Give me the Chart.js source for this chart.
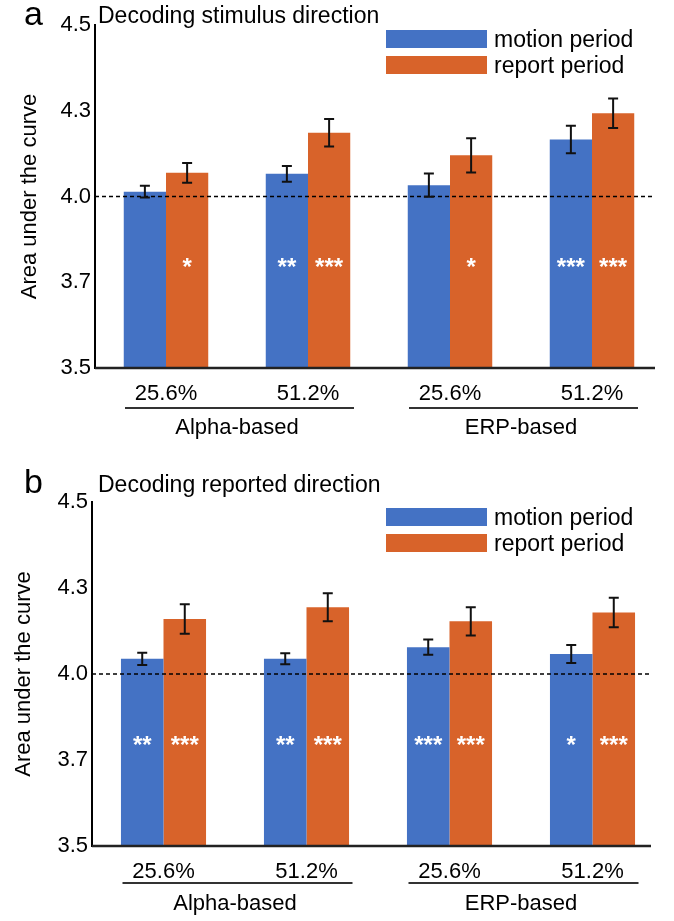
<!DOCTYPE html>
<html>
<head>
<meta charset="utf-8">
<script src="https://cdn.jsdelivr.net/npm/chart.js@4.4.0/dist/chart.umd.min.js"></script>
<style>
html, body { margin: 0; padding: 0; background: #fff; }
#wrap { position: relative; width: 674px; height: 921px; }
canvas { position: absolute; left: 0; }
</style>
</head>
<body>
<div id="wrap">
  <canvas id="chartA" width="674" height="460" style="top:0px"></canvas>
  <canvas id="chartB" width="674" height="461" style="top:460px"></canvas>
</div>
<script>
var categories = ["25.6%", "51.2%", "25.6%", "51.2%"]
var groups = ["Alpha-based", "ERP-based"]
var seriesNames = ["motion period", "report period"]
var tickValues = [3.5, 3.75, 4.0, 4.25, 4.5]
var tickLabels = ["3.5", "3.7", "4.0", "4.3", "4.5"]
var chanceLevel = 4.0
var starLevel = 3.81

// a: decoding stimulus direction
var stimMotion = [4.014, 4.066, 4.033, 4.166]
var stimMotionErr = [0.017, 0.023, 0.034, 0.040]
var stimReport = [4.069, 4.186, 4.120, 4.243]
var stimReportErr = [0.029, 0.040, 0.050, 0.043]
var stimMotionStars = ["", "**", "", "***"]
var stimReportStars = ["*", "***", "*", "***"]

// b: decoding reported direction
var repMotion = [4.044, 4.044, 4.078, 4.058]
var repMotionErr = [0.018, 0.016, 0.022, 0.026]
var repReport = [4.160, 4.194, 4.153, 4.179]
var repReportErr = [0.043, 0.041, 0.041, 0.043]
var repMotionStars = ["**", "**", "***", "*"]
var repReportStars = ["***", "***", "***", "***"]

var BLUE = "#4472C4"
var ORANGE = "#D8632A"
var FONT = "'Liberation Sans', Arial, sans-serif"

// error bars, stars, chance line, legend, titles, group labels
var decorPlugin = {
  id: "decor",
  afterDatasetsDraw: function (chart, args, opts) {
    var ctx = chart.ctx
    var ys = chart.scales.y
    var area = chart.chartArea
    ctx.save()

    // x baseline
    ctx.strokeStyle = "#222"
    ctx.lineWidth = 2.5
    ctx.beginPath()
    ctx.moveTo(area.left, area.bottom)
    ctx.lineTo(opts.axisEnd, area.bottom)
    ctx.stroke()

    // chance level
    var yc = ys.getPixelForValue(chanceLevel)
    ctx.strokeStyle = "#000"
    ctx.lineWidth = 1.5
    ctx.setLineDash([4, 3])
    ctx.beginPath()
    ctx.moveTo(area.left, yc)
    ctx.lineTo(opts.axisEnd, yc)
    ctx.stroke()
    ctx.setLineDash([])

    // error bars and stars
    chart.data.datasets.forEach(function (ds, i) {
      var meta = chart.getDatasetMeta(i)
      meta.data.forEach(function (bar, j) {
        var v = ds.data[j]
        var e = ds.errors[j]
        var y1 = ys.getPixelForValue(v + e)
        var y2 = ys.getPixelForValue(v - e)
        ctx.strokeStyle = "#111"
        ctx.lineWidth = 2
        ctx.beginPath()
        ctx.moveTo(bar.x, y1)
        ctx.lineTo(bar.x, y2)
        ctx.moveTo(bar.x - 5, y1)
        ctx.lineTo(bar.x + 5, y1)
        ctx.moveTo(bar.x - 5, y2)
        ctx.lineTo(bar.x + 5, y2)
        ctx.stroke()

        if (ds.stars[j]) {
          ctx.fillStyle = "#fff"
          ctx.font = "bold 24px " + FONT
          ctx.textAlign = "center"
          ctx.textBaseline = "alphabetic"
          ctx.fillText(ds.stars[j], bar.x, ys.getPixelForValue(starLevel) + 13.5)
        }
      })
    })

    // group labels under the category ticks
    var xs = chart.scales.x
    ctx.fillStyle = "#000"
    ctx.strokeStyle = "#333"
    ctx.lineWidth = 2
    groups.forEach(function (g, k) {
      var x0 = xs.getPixelForValue(k * 2)
      var x1 = xs.getPixelForValue(k * 2 + 1)
      ctx.beginPath()
      ctx.moveTo(x0 - 41, area.bottom + opts.underlineDy)
      ctx.lineTo(x1 + 46, area.bottom + opts.underlineDy)
      ctx.stroke()
      ctx.font = "22px " + FONT
      ctx.textAlign = "center"
      ctx.textBaseline = "middle"
      ctx.fillText(g, (x0 + x1) / 2, area.bottom + opts.groupDy)
    })

    // panel letter and title
    ctx.textAlign = "left"
    ctx.textBaseline = "alphabetic"
    ctx.font = "34px " + FONT
    ctx.fillText(opts.letter, 24, opts.letterY)
    ctx.font = "23px " + FONT
    ctx.fillText(opts.title, 98, opts.titleY)

    // legend
    chart.data.datasets.forEach(function (ds, i) {
      var top = opts.legendY + i * 26
      ctx.fillStyle = ds.backgroundColor
      ctx.fillRect(386, top, 101, 18)
      ctx.fillStyle = "#000"
      ctx.font = "23px " + FONT
      ctx.fillText(ds.label, 494, top + 16.5)
    })
    ctx.restore()
  }
}

function makeChart(id, p) {
  return new Chart(document.getElementById(id), {
    type: "bar",
    plugins: [decorPlugin],
    data: {
      labels: categories,
      datasets: [
        { label: seriesNames[0], data: p.motion, errors: p.motionErr, stars: p.motionStars, backgroundColor: BLUE },
        { label: seriesNames[1], data: p.report, errors: p.reportErr, stars: p.reportStars, backgroundColor: ORANGE }
      ]
    },
    options: {
      responsive: false,
      animation: false,
      devicePixelRatio: 1,
      layout: { autoPadding: false, padding: { top: p.top, right: p.right, left: 0, bottom: 0 } },
      datasets: { bar: { categoryPercentage: 0.595, barPercentage: 1.0, borderWidth: 0 } },
      scales: {
        x: {
          grid: { display: false, drawTicks: false },
          border: { display: false },
          ticks: { color: "#000", padding: 13, font: { family: FONT, size: 22 } },
          afterFit: function (s) { s.height = p.xHeight }
        },
        y: {
          min: 3.5,
          max: 4.5,
          grid: { display: false, drawTicks: false },
          border: { display: true, color: "#000", width: 2 },
          afterBuildTicks: function (s) { s.ticks = tickValues.map(function (v) { return { value: v } }) },
          ticks: {
            color: "#000",
            padding: 4,
            font: { family: FONT, size: 22 },
            callback: function (val, idx) { return tickLabels[idx] }
          },
          title: {
            display: true,
            text: "Area under the curve",
            color: "#000",
            font: { family: FONT, size: 22 },
            padding: { top: p.yTitlePad, bottom: 0 }
          },
          afterFit: function (s) { s.width = p.yWidth }
        }
      },
      plugins: {
        legend: { display: false },
        tooltip: { enabled: false },
        decor: p.decor
      }
    }
  })
}

makeChart("chartA", {
  motion: stimMotion, motionErr: stimMotionErr, motionStars: stimMotionStars,
  report: stimReport, reportErr: stimReportErr, reportStars: stimReportStars,
  top: 25, right: 11, xHeight: 92, yWidth: 95, yTitlePad: 17,
  decor: { letter: "a", title: "Decoding stimulus direction", letterY: 25, titleY: 23, legendY: 30, axisEnd: 655, underlineDy: 40, groupDy: 60 }
})

makeChart("chartB", {
  motion: repMotion, motionErr: repMotionErr, motionStars: repMotionStars,
  report: repReport, reportErr: repReportErr, reportStars: repReportStars,
  top: 42, right: 10, xHeight: 75, yWidth: 92, yTitlePad: 11,
  decor: { letter: "b", title: "Decoding reported direction", letterY: 33, titleY: 32, legendY: 48, axisEnd: 651, underlineDy: 37, groupDy: 58 }
})
</script>
</body>
</html>
